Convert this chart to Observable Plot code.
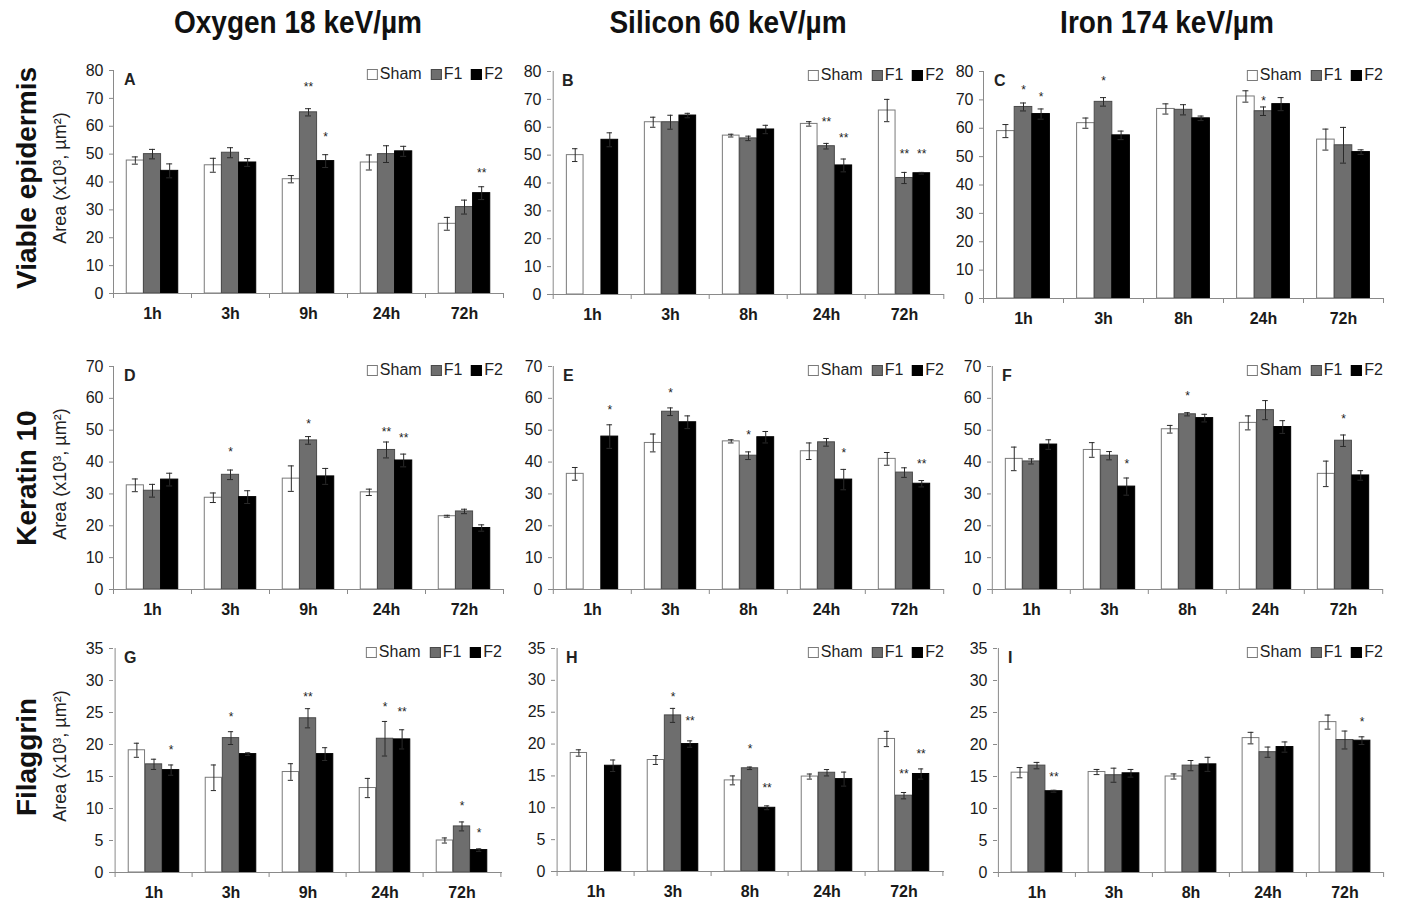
<!DOCTYPE html>
<html>
<head>
<meta charset="utf-8">
<script src="https://cdn.jsdelivr.net/npm/d3@7"></script>
<script src="https://cdn.jsdelivr.net/npm/@observablehq/plot@0.6"></script>
<style>
  html, body { margin: 0; padding: 0; background: #fff; }
  #root { position: relative; width: 1401px; height: 901px; overflow: hidden; font-family: "Liberation Sans", Arial, sans-serif; color: #111; }
  .abs { position: absolute; }
  .coltitle { font-weight: bold; font-size: 28px; line-height: 34px; white-space: nowrap; transform: translateX(-50%) scaleY(1.15); transform-origin: 50% 50%; }
  .rowlabel { font-weight: bold; font-size: 28px; line-height: 30px; white-space: nowrap; transform: translate(-50%, -50%) rotate(-90deg); }
  .ylab { font-size: 18px; line-height: 20px; white-space: nowrap; transform: translate(-50%, -50%) rotate(-90deg); color: #222; }
  .legend { font-size: 16px; line-height: 18px; white-space: nowrap; transform: translate(-100%, -50%); display: flex; align-items: center; color: #222; }
  .legend .sw { display: inline-block; width: 11px; height: 11px; box-sizing: border-box; margin: 0 2px 0 9px; }
  .legend .sw.first { margin-left: 0; }
  .letter { font-weight: bold; font-size: 16px; line-height: 18px; transform: translateY(-50%); color: #222; }
  svg g[aria-label="x-axis tick label"] text { font-weight: bold; }
</style>
</head>
<body>
<div id="root"></div>
<script>
// ---------- labels ----------
const seriesNames = ["Sham", "F1", "F2"];
const timesOxygen = ["1h", "3h", "9h", "24h", "72h"];
const timesHeavy = ["1h", "3h", "8h", "24h", "72h"];
const columnTitles = ["Oxygen 18 keV/µm", "Silicon 60 keV/µm", "Iron 174 keV/µm"];
const rowTitles = ["Viable epidermis", "Keratin 10", "Filaggrin"];
const panelLetters = ["A", "B", "C", "D", "E", "F", "G", "H", "I"];
const yAxisTitle = "Area (x10³, µm²)";
const yMaxByRow = [80, 70, 35];
const yStepByRow = [10, 10, 5];

// ---------- values: rows = time points, columns = Sham, F1, F2 ----------
// A: Oxygen, viable epidermis
const meanA = [[47.7, 50.0, 44.0], [46.0, 50.5, 47.0], [41.0, 65.0, 47.5], [47.0, 50.0, 51.0], [25.0, 31.0, 36.0]];
const errA  = [[1.3, 1.7, 2.5], [2.5, 1.8, 1.4], [1.3, 1.3, 2.3], [2.7, 3.0, 1.8], [2.3, 2.5, 2.3]];
const starsA = [["9h", "F1", "**", 75.2], ["9h", "F2", "*", 57.3], ["72h", "F2", "**", 44.4]];
// B: Silicon, viable epidermis
const meanB = [[50.0, null, 55.5], [61.8, 61.8, 64.2], [57.0, 56.0, 59.2], [61.2, 53.2, 46.3], [66.0, 41.8, 43.5]];
const errB  = [[2.3, 0, 2.5], [1.8, 2.5, 0.8], [0.5, 0.8, 1.5], [0.8, 1.0, 2.3], [4.0, 2.0, 0.3]];
const starsB = [["24h", "F1", "**", 63.0], ["24h", "F2", "**", 57.3], ["72h", "F1", "**", 51.6], ["72h", "F2", "**", 51.6]];
// C: Iron, viable epidermis
const meanC = [[59.0, 67.5, 65.0], [61.8, 69.3, 57.5], [66.8, 66.5, 63.5], [71.2, 66.0, 68.5], [56.0, 54.0, 51.6]];
const errC  = [[2.3, 1.4, 1.8], [1.8, 1.5, 1.5], [1.8, 1.8, 0.8], [2.0, 1.5, 2.3], [3.7, 6.3, 0.8]];
const starsC = [["1h", "F1", "*", 74.4], ["1h", "F2", "*", 72.0], ["3h", "F1", "*", 77.5], ["24h", "F1", "*", 70.5]];
// D: Oxygen, keratin 10
const meanD = [[32.7, 31.0, 34.5], [28.8, 36.0, 29.0], [34.8, 46.8, 35.5], [30.5, 43.8, 40.5], [23.0, 24.5, 19.3]];
const errD  = [[2.0, 2.0, 2.0], [1.5, 1.5, 2.0], [4.0, 1.2, 2.5], [1.0, 2.5, 2.0], [0.3, 0.7, 1.0]];
const starsD = [["3h", "F1", "*", 43.9], ["9h", "F1", "*", 52.8], ["24h", "F1", "**", 50.4], ["24h", "F2", "**", 48.6]];
// E: Silicon, keratin 10
const meanE = [[36.3, null, 48.0], [46.0, 55.8, 52.5], [46.5, 42.0, 47.8], [43.4, 46.2, 34.5], [41.0, 36.7, 33.2]];
const errE  = [[2.0, 0, 3.7], [2.8, 1.2, 2.0], [0.5, 1.2, 1.8], [2.6, 1.2, 3.2], [2.0, 1.5, 1.0]];
const starsE = [["1h", "F2", "*", 57.2], ["3h", "F1", "*", 62.6], ["8h", "F1", "*", 49.3], ["24h", "F2", "*", 43.8], ["72h", "F2", "**", 40.4]];
// F: Iron, keratin 10
const meanF = [[41.0, 40.2, 45.5], [43.8, 42.0, 32.3], [50.3, 55.0, 53.8], [52.3, 56.3, 51.0], [36.3, 46.7, 35.8]];
const errF  = [[3.7, 0.8, 1.5], [2.3, 1.3, 2.7], [1.2, 0.5, 1.2], [2.2, 3.0, 2.0], [4.0, 1.8, 1.5]];
const starsF = [["3h", "F2", "*", 40.4], ["8h", "F1", "*", 61.5], ["72h", "F1", "*", 54.3]];
// G: Oxygen, filaggrin
const meanG = [[19.1, 16.9, 16.0], [14.8, 21.0, 18.5], [15.7, 24.1, 18.5], [13.2, 20.9, 20.8], [5.0, 7.2, 3.5]];
const errG  = [[1.1, 0.8, 0.8], [2.0, 1.0, 0.2], [1.3, 1.5, 1.0], [1.5, 2.7, 1.5], [0.4, 0.7, 0.2]];
const starsG = [["1h", "F2", "*", 19.6], ["3h", "F1", "*", 24.7], ["9h", "F1", "**", 27.8], ["24h", "F1", "*", 26.3], ["24h", "F2", "**", 25.6], ["72h", "F1", "*", 10.9], ["72h", "F2", "*", 6.6]];
// H: Silicon, filaggrin
const meanH = [[18.6, null, 16.6], [17.5, 24.5, 20.0], [14.3, 16.2, 10.0], [14.9, 15.5, 14.5], [20.8, 11.9, 15.3]];
const errH  = [[0.5, 0, 0.9], [0.7, 1.1, 0.5], [0.7, 0.2, 0.3], [0.4, 0.5, 1.1], [1.2, 0.5, 0.8]];
const starsH = [["3h", "F1", "*", 27.9], ["3h", "F2", "**", 24.1], ["8h", "F1", "*", 19.6], ["8h", "F2", "**", 13.6], ["72h", "F1", "**", 15.7], ["72h", "F2", "**", 18.9]];
// I: Iron, filaggrin
const meanI = [[15.6, 16.7, 12.7], [15.7, 15.2, 15.5], [15.0, 16.7, 16.9], [21.0, 18.8, 19.6], [23.5, 20.7, 20.6]];
const errI  = [[0.8, 0.5, 0.15], [0.4, 1.1, 0.6], [0.4, 0.8, 1.1], [0.9, 0.8, 0.8], [1.1, 1.4, 0.6]];
const starsI = [["1h", "F2", "**", 15.3], ["72h", "F2", "*", 23.9]];

const panelData = [
  {times: timesOxygen, mean: meanA, err: errA, stars: starsA},
  {times: timesHeavy,  mean: meanB, err: errB, stars: starsB},
  {times: timesHeavy,  mean: meanC, err: errC, stars: starsC},
  {times: timesOxygen, mean: meanD, err: errD, stars: starsD},
  {times: timesHeavy,  mean: meanE, err: errE, stars: starsE},
  {times: timesHeavy,  mean: meanF, err: errF, stars: starsF},
  {times: timesOxygen, mean: meanG, err: errG, stars: starsG},
  {times: timesHeavy,  mean: meanH, err: errH, stars: starsH},
  {times: timesHeavy,  mean: meanI, err: errI, stars: starsI}
];

// ---------- layout (plot area boxes: left, right, top, bottom in page px) ----------
const frames = [
  [113, 503, 70, 293], [551, 944, 71, 294], [983, 1383, 71, 298],
  [113, 503, 366, 589], [552, 944, 366, 589], [991, 1383, 366, 589],
  [113, 502, 648, 872], [555, 944, 648, 871], [997, 1383, 648, 872]
];
const colTitleX = [298, 728, 1167];
const rowLabelY = [178, 478, 757];
const fills = ["#ffffff", "#6e6e6e", "#000000"];
const strokes = ["#7a7a7a", "#4a4a4a", "#000000"];
const axisColor = "#8a8a8a";
const errColor = "#2a2a2a";

const root = document.getElementById("root");
function addDiv(cls, text, left, top) {
  const d = document.createElement("div");
  d.className = "abs " + cls;
  d.textContent = text;
  d.style.left = left + "px";
  d.style.top = top + "px";
  root.appendChild(d);
  return d;
}

columnTitles.forEach((t, i) => addDiv("coltitle", t, colTitleX[i], 6));
rowTitles.forEach((t, i) => {
  addDiv("rowlabel", t, 27, rowLabelY[i]);
  const [x0, x1, y0, y1] = frames[i * 3];
  addDiv("ylab", yAxisTitle, 60, (y0 + y1) / 2 - 4);
});

function drawPanel(k) {
  const row = Math.floor(k / 3);
  const {times, mean, err, stars} = panelData[k];
  const [x0, x1, y0, y1] = frames[k];
  const W = x1 - x0, H = y1 - y0;
  const mL = 50, mR = 12, mT = 14, mB = 40;
  const band = W / times.length;
  const bw = band * 0.22;
  const inset = (band - bw) / 2;
  const ymax = yMaxByRow[row], step = yStepByRow[row];
  const rows = [];
  times.forEach((t, ti) => seriesNames.forEach((s, si) => {
    const v = mean[ti][si];
    if (v != null) rows.push({time: t, series: s, si, value: v, err: err[ti][si]});
  }));
  const marks = [];
  seriesNames.forEach((s, si) => {
    marks.push(Plot.barY(rows.filter(d => d.si === si), {
      x: "time", y: "value", insetLeft: inset, insetRight: inset, dx: (si - 1) * bw,
      fill: fills[si], stroke: strokes[si], strokeWidth: 1
    }));
  });
  seriesNames.forEach((s, si) => {
    const sub = rows.filter(d => d.si === si && d.err > 0);
    const dx = (si - 1) * bw;
    marks.push(Plot.ruleX(sub, {x: "time", y1: d => d.value - d.err, y2: d => d.value + d.err, dx, stroke: errColor, strokeWidth: 1}));
    marks.push(Plot.tickY(sub, {x: "time", y: d => d.value + d.err, dx, insetLeft: band / 2 - 3, insetRight: band / 2 - 3, stroke: errColor}));
    marks.push(Plot.tickY(sub, {x: "time", y: d => d.value - d.err, dx, insetLeft: band / 2 - 3, insetRight: band / 2 - 3, stroke: errColor}));
    marks.push(Plot.text(stars.filter(st => st[1] === s), {
      x: st => st[0], y: st => st[3], text: st => st[2], dx, dy: 3, fontSize: 12, fill: "#222"
    }));
  });
  const tickLen = ymax * 5 / H;
  marks.push(Plot.ruleY([0], {stroke: axisColor}));
  marks.push(Plot.ruleX([times[0]], {x: d => d, y1: 0, y2: ymax, dx: -band / 2, stroke: axisColor}));
  marks.push(Plot.ruleX(times, {x: d => d, y1: 0, y2: -tickLen, dx: -band / 2, stroke: axisColor}));
  marks.push(Plot.ruleX([times[times.length - 1]], {x: d => d, y1: 0, y2: -tickLen, dx: band / 2, stroke: axisColor}));
  marks.push(Plot.axisY(d3.range(0, ymax + step / 2, step), {tickSize: 4, tickPadding: 6, label: null, fontSize: 16, stroke: axisColor, fill: "#1a1a1a"}));
  marks.push(Plot.axisX({tickSize: 0, tickPadding: 14, label: null, fontSize: 16, fontWeight: "bold", fill: "#1a1a1a"}));

  const svg = Plot.plot({
    width: mL + W + mR,
    height: mT + H + mB,
    marginLeft: mL, marginRight: mR, marginTop: mT, marginBottom: mB,
    x: {domain: times, padding: 0, label: null},
    y: {domain: [0, ymax], label: null},
    style: {fontFamily: '"Liberation Sans", Arial, sans-serif', background: "transparent", overflow: "visible", color: "#1a1a1a"},
    marks
  });
  svg.style.position = "absolute";
  svg.style.left = (x0 - mL) + "px";
  svg.style.top = (y0 - mT) + "px";
  root.appendChild(svg);

  // panel letter
  addDiv("letter", panelLetters[k], x0 + 11, y0 + 10);
  // legend
  const lg = document.createElement("div");
  lg.className = "abs legend";
  lg.style.left = x1 + "px";
  lg.style.top = (y0 + 4) + "px";
  seriesNames.forEach((s, si) => {
    const sw = document.createElement("span");
    sw.className = "sw" + (si === 0 ? " first" : "");
    sw.style.background = fills[si];
    sw.style.border = "1px solid " + strokes[si];
    lg.appendChild(sw);
    const tx = document.createElement("span");
    tx.textContent = s;
    lg.appendChild(tx);
  });
  root.appendChild(lg);
}

for (let k = 0; k < 9; k++) drawPanel(k);
</script>
</body>
</html>
